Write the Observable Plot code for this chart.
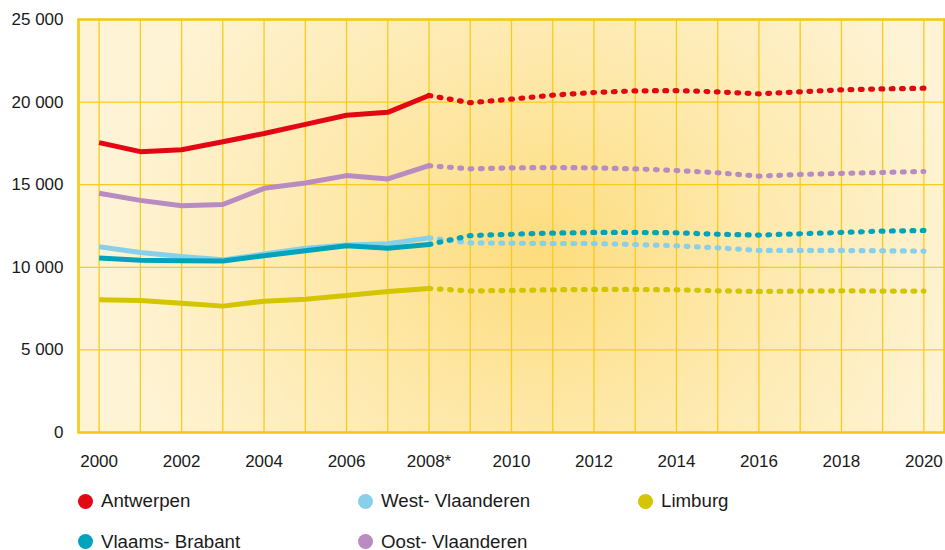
<!DOCTYPE html>
<html>
<head>
<meta charset="utf-8">
<script src="https://cdn.jsdelivr.net/npm/d3@7"></script>
<script src="https://cdn.jsdelivr.net/npm/@observablehq/plot@0.6"></script>
<style>
  html, body { margin: 0; padding: 0; background: #fff; }
  #wrap { position: relative; width: 945px; height: 550px; font-family: "Liberation Sans", Arial, sans-serif; }
  .leg { position: absolute; display: flex; align-items: center; font-size: 18.7px; color: #1a1a1a; white-space: pre; }
  .leg span.dot { display: inline-block; width: 15px; height: 15px; border-radius: 50%; margin-right: 8px; }
</style>
</head>
<body>
<div id="wrap"></div>
<script>
// ---- data ----
const histYears = [2000, 2001, 2002, 2003, 2004, 2005, 2006, 2007, 2008];
const projYears = [2008, 2009, 2010, 2011, 2012, 2013, 2014, 2015, 2016, 2017, 2018, 2019, 2020];
const allYears = [2000, 2001, 2002, 2003, 2004, 2005, 2006, 2007, 2008, 2009, 2010, 2011, 2012, 2013, 2014, 2015, 2016, 2017, 2018, 2019, 2020];
const xTickYears = [2000, 2002, 2004, 2006, 2008, 2010, 2012, 2014, 2016, 2018, 2020];
const xTickLabels = ["2000", "2002", "2004", "2006", "2008*", "2010", "2012", "2014", "2016", "2018", "2020"];
const yTicks = [0, 5000, 10000, 15000, 20000, 25000];

const provinces = ["West- Vlaanderen", "Vlaams- Brabant", "Limburg", "Oost- Vlaanderen", "Antwerpen"];
const colors = {
  "Antwerpen": "#e30613",
  "West- Vlaanderen": "#88d0ea",
  "Limburg": "#d3c500",
  "Vlaams- Brabant": "#00a3bc",
  "Oost- Vlaanderen": "#b88bc1"
};

const antwerpenHist = [17550, 17000, 17120, 17600, 18100, 18650, 19200, 19380, 20400];
const antwerpenProj = [20400, 19960, 20180, 20420, 20580, 20680, 20700, 20620, 20500, 20620, 20740, 20800, 20840];
const oostHist = [14480, 14050, 13720, 13800, 14780, 15100, 15550, 15350, 16150];
const oostProj = [16150, 15960, 16020, 16040, 16020, 15960, 15860, 15720, 15520, 15620, 15680, 15740, 15800];
const westHist = [11250, 10900, 10650, 10450, 10800, 11150, 11350, 11420, 11780];
const westProj = [11780, 11480, 11460, 11440, 11440, 11380, 11300, 11180, 11020, 11020, 11020, 11000, 10980];
const brabantHist = [10570, 10420, 10400, 10380, 10700, 11000, 11300, 11160, 11380];
const brabantProj = [11380, 11920, 12000, 12070, 12110, 12110, 12090, 12000, 11950, 12030, 12110, 12190, 12230];
const limburgHist = [8030, 7990, 7830, 7650, 7950, 8070, 8290, 8540, 8720];
const limburgProj = [8720, 8570, 8600, 8640, 8660, 8660, 8640, 8580, 8540, 8560, 8580, 8560, 8560];

const hist = {
  "Antwerpen": antwerpenHist, "Oost- Vlaanderen": oostHist, "West- Vlaanderen": westHist,
  "Vlaams- Brabant": brabantHist, "Limburg": limburgHist
};
const proj = {
  "Antwerpen": antwerpenProj, "Oost- Vlaanderen": oostProj, "West- Vlaanderen": westProj,
  "Vlaams- Brabant": brabantProj, "Limburg": limburgProj
};

const histRows = provinces.flatMap(p => histYears.map((y, i) => ({p, year: y, v: hist[p][i]})));
const projRows = provinces.flatMap(p => projYears.map((y, i) => ({p, year: y, v: proj[p][i]})));

const fmt = d => d === 0 ? "0" : d3.format(",")(d).replace(/,/g, " ");

const chart = Plot.plot({
  width: 945,
  height: 480,
  marginLeft: 78,
  marginRight: 1,
  marginTop: 19,
  marginBottom: 48,
  style: { fontFamily: "'Liberation Sans', Arial, sans-serif", fontSize: "17px", color: "#1a1a1a", background: "transparent", overflow: "visible" },
  x: { domain: [1999.5, 2020.5], label: null },
  y: { domain: [0, 25000], label: null },
  color: { domain: provinces, range: provinces.map(p => colors[p]) },
  marks: [
    Plot.frame({ fill: "url(#bgGrad)", stroke: "none" }),
    Plot.gridX(allYears, { stroke: "#f8cc1c", strokeOpacity: 1, strokeWidth: 1.3 }),
    Plot.gridY([5000, 10000, 15000, 20000], { stroke: "#f8cc1c", strokeOpacity: 1, strokeWidth: 1.3 }),
    Plot.frame({ stroke: "#f6c816", strokeWidth: 2.6 }),
    Plot.axisY(yTicks, { tickSize: 0, tickPadding: 15, tickFormat: fmt, fontSize: 17, fill: "#1a1a1a", label: null }),
    Plot.axisX(xTickYears, { tickSize: 0, tickPadding: 22, tickFormat: d => xTickLabels[xTickYears.indexOf(d)], fontSize: 17, fill: "#1a1a1a", label: null }),
    Plot.line(histRows, { x: "year", y: "v", z: "p", stroke: "p", strokeWidth: 5, strokeLinejoin: "miter", strokeLinecap: "butt" }),
    Plot.line(projRows, { x: "year", y: "v", z: "p", stroke: "p", strokeWidth: 5.2, strokeDasharray: "1.8 8.5", strokeLinecap: "round" })
  ]
});

// gradient background
const ns = "http://www.w3.org/2000/svg";
const defs = document.createElementNS(ns, "defs");
defs.innerHTML = `<radialGradient id="bgGrad" gradientUnits="userSpaceOnUse" cx="540" cy="250" r="430" gradientTransform="translate(540 250) scale(1 0.9) translate(-540 -250)">
  <stop offset="0" stop-color="#fddc7c"/>
  <stop offset="0.45" stop-color="#fee8a8"/>
  <stop offset="1" stop-color="#fef3d4"/>
</radialGradient>`;
chart.insertBefore(defs, chart.firstChild);
chart.style.position = "absolute";
chart.style.left = "0px";
chart.style.top = "0px";

const wrap = document.getElementById("wrap");
wrap.appendChild(chart);

// legend
const legendItems = [
  { p: "Antwerpen", x: 78, y: 501 },
  { p: "West- Vlaanderen", x: 358, y: 501 },
  { p: "Limburg", x: 638, y: 501 },
  { p: "Vlaams- Brabant", x: 78, y: 541.5 },
  { p: "Oost- Vlaanderen", x: 358, y: 541.5 }
];
for (const it of legendItems) {
  const d = document.createElement("div");
  d.className = "leg";
  d.style.left = it.x + "px";
  d.style.top = (it.y - 11) + "px";
  d.style.height = "22px";
  const dot = document.createElement("span");
  dot.className = "dot";
  dot.style.background = colors[it.p];
  d.appendChild(dot);
  d.appendChild(document.createTextNode(it.p));
  wrap.appendChild(d);
}
</script>
</body>
</html>
